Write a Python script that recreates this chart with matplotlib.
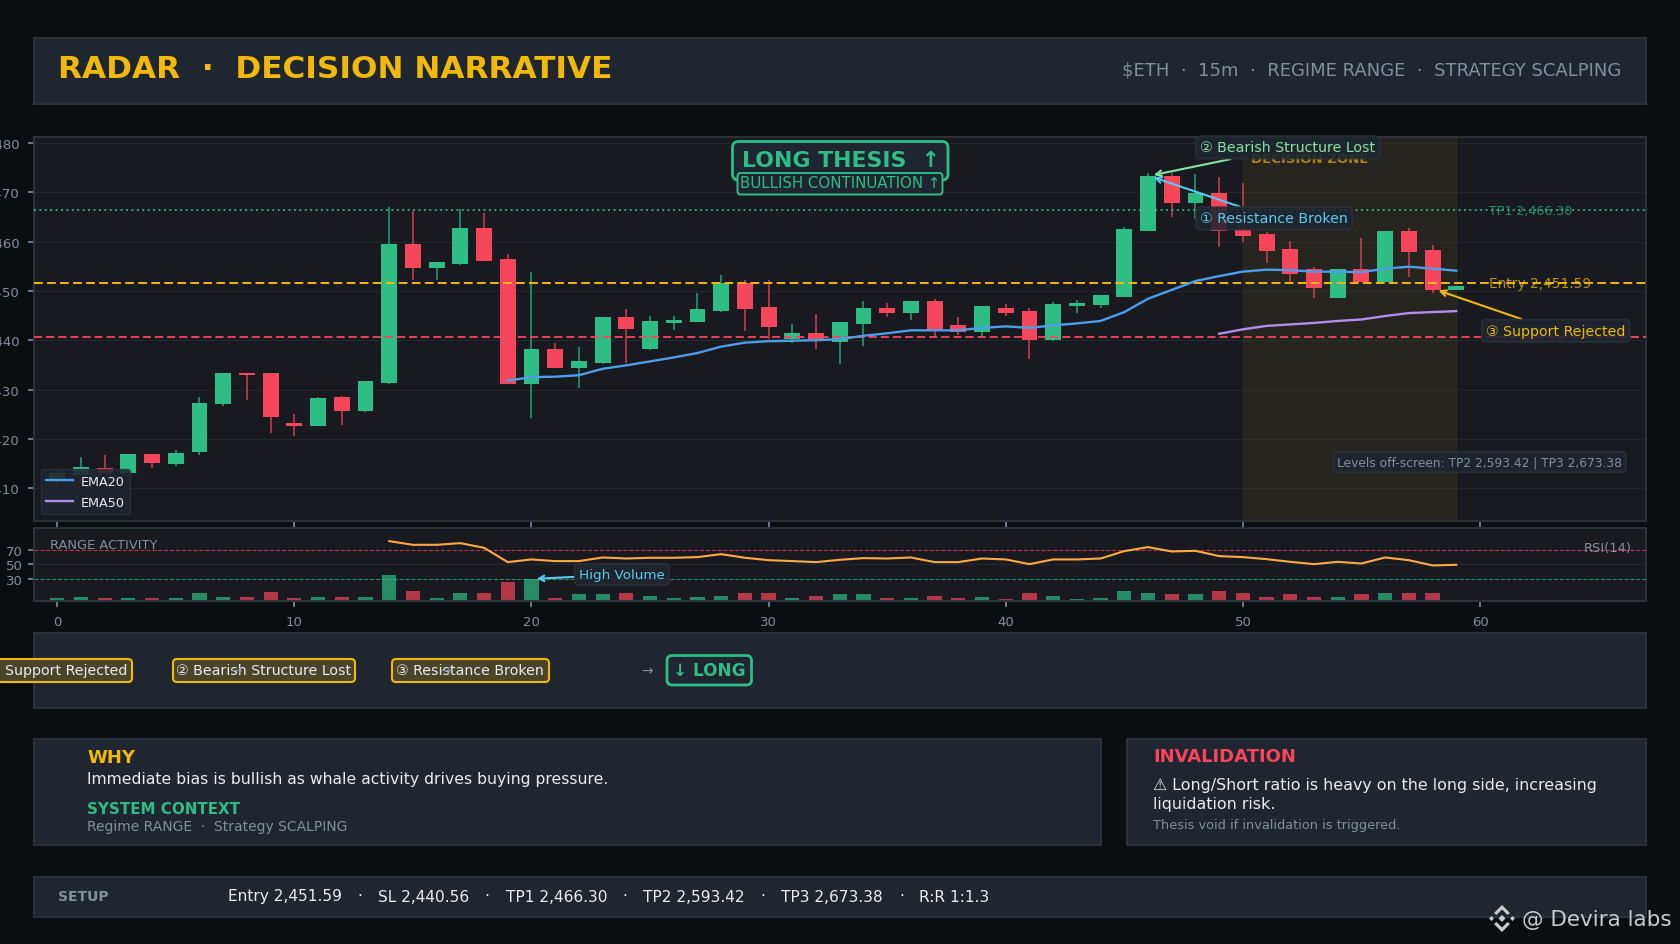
import matplotlib
matplotlib.use("Agg")
import matplotlib.pyplot as plt
from matplotlib.patches import Rectangle, FancyBboxPatch, Polygon

plt.rcParams['font.family'] = ['DejaVu Sans']

BG = '#0B0E11'; PANEL = '#1F262F'; AXBG = '#181A20'; EDGE = '#2B3139'
GREEN = '#2EBD85'; RED = '#F6465D'; AMBER = '#F0B90B'; GREY = '#848E9C'; TEXT = '#EAECEF'
SKY = '#5BC8EF'; LGREEN = '#86E3A4'; BLUE = '#4C9EEB'; PURPLE = '#B28DEB'; ORANGE = '#FFA940'

opens = [2411.8, 2412.7, 2414.1, 2413.1, 2417.0, 2414.9, 2417.4, 2427.1, 2433.4, 2433.4,
         2423.2, 2422.6, 2428.5, 2425.7, 2431.4, 2459.5, 2454.7, 2455.5, 2462.8, 2456.5,
         2431.1, 2438.2, 2434.4, 2435.4, 2444.7, 2438.2, 2443.5, 2443.7, 2445.9, 2451.6,
         2446.8, 2440.3, 2441.5, 2439.7, 2443.3, 2446.6, 2445.5, 2448.0, 2443.1, 2441.7,
         2446.6, 2445.9, 2440.1, 2447.0, 2447.2, 2448.8, 2462.2, 2473.3, 2467.8, 2469.9,
         2462.6, 2461.6, 2458.5, 2454.5, 2448.6, 2454.5, 2451.8, 2462.2, 2458.3, 2450.2]
closes = [2413.1, 2414.3, 2413.1, 2417.0, 2415.1, 2417.2, 2427.3, 2433.4, 2433.0, 2424.5,
          2422.6, 2428.3, 2425.7, 2431.8, 2459.5, 2454.7, 2455.9, 2462.8, 2456.1, 2431.1,
          2438.2, 2434.4, 2435.8, 2444.7, 2442.3, 2443.9, 2444.1, 2446.4, 2451.6, 2446.4,
          2442.7, 2441.5, 2439.9, 2443.7, 2446.6, 2445.5, 2448.0, 2442.1, 2441.7, 2447.0,
          2445.5, 2440.1, 2447.4, 2447.6, 2449.2, 2462.6, 2473.3, 2467.8, 2469.9, 2462.2,
          2461.1, 2458.1, 2453.4, 2450.6, 2454.5, 2451.8, 2462.2, 2457.9, 2450.2, 2451.0]
highs = [2413.9, 2416.35, 2416.8, 2417.0, 2417.0, 2417.8, 2428.5, 2433.4, 2433.4, 2433.4,
         2425.1, 2428.5, 2428.7, 2431.8, 2467.0, 2466.2, 2455.9, 2466.6, 2465.8, 2457.5,
         2453.9, 2439.5, 2438.6, 2444.7, 2446.4, 2444.9, 2444.9, 2449.6, 2453.2, 2452.2,
         2452.2, 2443.3, 2445.3, 2443.7, 2448.0, 2447.6, 2448.0, 2448.4, 2444.7, 2447.0,
         2447.4, 2446.6, 2447.8, 2448.2, 2449.2, 2463.0, 2473.9, 2473.9, 2473.7, 2473.1,
         2471.9, 2462.0, 2460.1, 2454.8, 2454.5, 2460.7, 2462.2, 2462.8, 2459.3, 2451.0]
lows = [2410.7, 2412.7, 2413.1, 2413.1, 2414.1, 2414.5, 2416.8, 2426.7, 2427.9, 2421.2,
        2420.6, 2422.6, 2422.8, 2425.5, 2431.1, 2452.2, 2452.2, 2455.3, 2456.1, 2431.1,
        2424.3, 2434.4, 2430.3, 2435.2, 2435.4, 2438.0, 2442.1, 2443.7, 2445.7, 2441.9,
        2440.3, 2439.5, 2438.2, 2435.2, 2438.9, 2444.7, 2444.1, 2440.9, 2441.1, 2440.7,
        2444.9, 2436.2, 2439.9, 2445.5, 2446.6, 2448.8, 2462.2, 2465.0, 2464.6, 2458.9,
        2459.9, 2455.7, 2451.8, 2448.6, 2448.6, 2451.8, 2451.8, 2452.8, 2449.6, 2450.2]

ema20_start = 19
ema20 = [2431.8, 2432.5, 2432.6, 2432.9, 2434.2, 2434.9, 2435.7, 2436.5, 2437.4, 2438.7,
         2439.5, 2439.8, 2439.9, 2440.0, 2440.2, 2440.9, 2441.4, 2442.0, 2442.0, 2442.0,
         2442.5, 2442.8, 2442.5, 2443.0, 2443.4, 2443.9, 2445.7, 2448.4, 2450.2, 2452.0,
         2453.0, 2453.9, 2454.3, 2454.2, 2453.9, 2453.9, 2453.8, 2454.5, 2454.9, 2454.5, 2454.1]
ema50_start = 49
ema50 = [2441.3, 2442.2, 2442.9, 2443.2, 2443.5, 2443.9, 2444.2, 2444.9, 2445.5, 2445.7, 2445.9]

rsi_start = 14
rsi = [82, 76.9, 76.9, 79.2, 72.8, 53, 56.7, 54.4, 54.4, 59.4, 58, 59, 59, 59.9, 64, 59, 55.7,
       54.4, 53, 56.2, 58.5, 58, 59.4, 53, 53, 58, 56.7, 50.2, 56.7, 56.7, 58, 68.2, 73.7, 67.7,
       68.6, 61.3, 59.9, 57.1, 53.4, 50.2, 53.4, 51.1, 59.4, 55.7, 48.4, 49.3]
volume = [2.8, 5.5, 2.8, 2.8, 2.8, 2.8, 11, 5.5, 5.5, 12.4, 4.1, 5.5, 5.5, 5.5, 35.9, 13.8, 2.8,
          11, 9.7, 26.2, 29, 4.1, 8.3, 8.3, 11, 6.9, 2.8, 5.5, 6.9, 9.7, 11, 2.8, 6.9, 8.3, 8.3,
          2.8, 2.8, 6.9, 2.8, 5.5, 1.4, 9.7, 6.9, 1.4, 2.8, 13.8, 11, 8.3, 8.3, 13.8, 11, 5.5,
          8.3, 5.5, 5.5, 8.3, 9.7, 9.7, 9.7, 0]

setup_items = ['Entry 2,451.59', 'SL 2,440.56', 'TP1 2,466.30', 'TP2 2,593.42', 'TP3 2,673.38', 'R:R 1:1.3']
setup_left = [227.5, 377.5, 505.5, 642.8, 781, 919]
setup_dots = [359.5, 487, 625, 763, 901.5]

ENTRY = 2451.59; SL = 2440.56; TP1 = 2466.30
W, H = 1680, 945
fig = plt.figure(figsize=(16.8, 9.45), dpi=100, facecolor=BG)

def axrect(l, t, r, b):
    return [l / W, 1 - b / H, (r - l) / W, (b - t) / H]

bg = fig.add_axes([0, 0, 1, 1], zorder=0)
bg.set_xlim(0, W); bg.set_ylim(H, 0); bg.axis('off')
for l, t, r, b in [(33.5, 38.5, 1646, 105), (33.5, 634, 1646, 709), (33.5, 740, 1100.5, 846),
                   (1126.5, 740, 1646, 846), (33.5, 878, 1646, 918)]:
    bg.add_patch(Rectangle((l, t), r - l, b - t, fc=PANEL, ec=EDGE, lw=1.5))

ax = fig.add_axes(axrect(33.5, 138, 1646, 521.7), zorder=2, facecolor=AXBG)
sub = fig.add_axes(axrect(33.5, 528.5, 1646, 601.5), zorder=2, facecolor=AXBG)
top = fig.add_axes([0, 0, 1, 1], zorder=5)
top.set_xlim(0, W); top.set_ylim(H, 0); top.axis('off'); top.patch.set_alpha(0)

# main chart
xs = list(range(len(opens)))
cols = [GREEN if c >= o else RED for o, c in zip(opens, closes)]
ax.vlines(xs, lows, highs, colors=cols, lw=1.2, alpha=0.75, zorder=2)
ax.bar(xs, [abs(c - o) for o, c in zip(opens, closes)], bottom=[min(o, c) for o, c in zip(opens, closes)],
       width=0.67, color=cols, zorder=3)
ax.plot(range(ema20_start, ema20_start + len(ema20)), ema20, color=BLUE, lw=1.7, zorder=5, label='EMA20')
ax.plot(range(ema50_start, ema50_start + len(ema50)), ema50, color=PURPLE, lw=1.7, zorder=5, label='EMA50')
ax.axvspan(50, 59, facecolor=AMBER, alpha=0.065, edgecolor=AMBER, lw=0.8, zorder=1)
ax.axhline(ENTRY, color=AMBER, ls=(0, (4.5, 2.2)), lw=1.4, zorder=4)
ax.axhline(SL, color=RED, ls=(0, (4.5, 2.2)), lw=1.3, zorder=4)
ax.axhline(TP1, color=GREEN, ls=(0, (1, 2)), lw=1.3, zorder=4)
ax.set_xlim(-1, 67); ax.set_ylim(2403.4, 2481.2)
ax.set_xticks(range(0, 61, 10)); ax.set_xticklabels([])
ax.set_yticks(range(2410, 2481, 10))
ax.grid(axis='y', color=EDGE, alpha=0.55, lw=0.8); ax.set_axisbelow(True)
ax.tick_params(axis='y', colors=GREY, labelsize=9.5, length=4.3, width=1.2, pad=6)
ax.tick_params(axis='x', colors=GREY, length=4.5, width=1.2)
for s in ax.spines.values():
    s.set_color(EDGE); s.set_linewidth(1.5)

lx = 60.4
ax.text(lx, TP1, 'TP1 2,466.30', color=GREEN, alpha=0.7, fontsize=9.1, va='center', zorder=6)
ax.text(lx, ENTRY, 'Entry 2,451.59', color=AMBER, alpha=0.75, fontsize=9.9, va='center', zorder=6)
ax.text(lx, SL, 'SL 2,440.56', color=RED, alpha=0.6, fontsize=9, va='center', zorder=6)
ax.text(52.8, 2476.8, 'DECISION ZONE', color=AMBER, alpha=0.65, fontsize=9.5, fontweight='bold',
        ha='center', va='center', zorder=6)

def note(a, txt, xy, xytext, col, ha='left', fs=10.2, arrow=True):
    box = dict(boxstyle='round,pad=0.3', fc=PANEL, ec=EDGE, lw=1.2, alpha=0.88)
    if arrow:
        a.annotate(txt, xy=xy, xytext=xytext, color=col, fontsize=fs, ha=ha, va='center', bbox=box, zorder=8,
                   arrowprops=dict(arrowstyle='->', color=col, lw=1.5, shrinkA=0, shrinkB=0), annotation_clip=False)
    else:
        a.text(*xytext, txt, color=col, fontsize=fs, ha=ha, va='center', bbox=box, zorder=8)

note(ax, '② Bearish Structure Lost', (46.24, 2473.5), (48.2, 2479.1), LGREEN)
note(ax, '① Resistance Broken', (46.24, 2473.0), (48.2, 2464.7), SKY)
note(ax, '③ Support Rejected', (58.25, 2450.07), (60.25, 2441.9), AMBER)
note(ax, 'Levels off-screen: TP2 2,593.42 | TP3 2,673.38', (0, 0), (66.0, 2415.3), GREY, ha='right', fs=8.8, arrow=False)

leg = ax.legend(loc='lower left', bbox_to_anchor=(0.0048, 0.0175), borderaxespad=0, fontsize=9.2, handlelength=2.1,
                labelspacing=0.65, borderpad=0.4, handletextpad=0.6, facecolor=PANEL, edgecolor=EDGE, framealpha=0.88)
leg.set_zorder(9)
for t in leg.get_texts():
    t.set_color(TEXT)

# lower chart
sub.bar(xs, volume, width=0.6, color=cols, alpha=0.7, zorder=2)
sub.plot(range(rsi_start, rsi_start + len(rsi)), rsi, color=ORANGE, lw=1.5, zorder=4)
sub.axhline(70, color=RED, ls='--', lw=0.8, alpha=0.7, zorder=3)
sub.axhline(50, color=EDGE, lw=0.7, alpha=0.7, zorder=1)
sub.axhline(30, color=GREEN, ls='--', lw=0.8, alpha=0.7, zorder=3)
sub.set_xlim(-1, 67); sub.set_ylim(0, 100.8)
sub.set_xticks(range(0, 61, 10)); sub.set_yticks([30, 50, 70])
sub.tick_params(axis='both', colors=GREY, labelsize=9.5, length=4.5, width=1.2)
sub.tick_params(axis='x', pad=6)
for s in sub.spines.values():
    s.set_color(EDGE); s.set_linewidth(1.5)
sub.text(0.0105, 0.77, 'RANGE ACTIVITY', transform=sub.transAxes, color=GREY, fontsize=9.4, va='center')
sub.text(0.9912, 0.72, 'RSI(14)', transform=sub.transAxes, color=GREY, fontsize=9.4, ha='right', va='center')
note(sub, 'High Volume', (20.22, 30), (22.0, 36), SKY, fs=9.7)

# header
top.text(58.5, 78, 'RADAR  ·  DECISION NARRATIVE', color=AMBER, fontsize=22.4, fontweight='bold', va='baseline')
top.text(1621.5, 70, '$ETH  ·  15m  ·  REGIME RANGE  ·  STRATEGY SCALPING', color=GREY, fontsize=13, ha='right', va='center')

# thesis badge
def chip(l, t, r, b, fc, ec, lw, alpha=1.0, rad=6, z=3):
    top.add_patch(FancyBboxPatch((l + rad, t + rad), r - l - 2 * rad, b - t - 2 * rad,
                                 boxstyle=f'round,pad={rad},rounding_size={rad}', fc=fc, ec=ec, lw=lw, zorder=z))

chip(732.5, 142.5, 948, 181, PANEL, GREEN, 2.0, rad=6)
top.text(742, 161, 'LONG THESIS  ↑', color=GREEN, fontsize=15.8, fontweight='bold', va='center', zorder=4)
chip(737.5, 174, 942.5, 195.5, PANEL, GREEN, 1.4, rad=3, z=5)
top.text(840, 184, 'BULLISH CONTINUATION ↑', color=GREEN, fontsize=10.8, ha='center', va='center', zorder=6)

# narrative chips
chip_fc = '#4A4428'
for l, r, txt, tx in [(-45, 132, '① Support Rejected', 127.5), (173, 355, '② Bearish Structure Lost', 351),
                      (392, 549, '③ Resistance Broken', 544)]:
    chip(l, 660, r, 683, chip_fc, AMBER, 1.5, rad=4)
    top.text(tx, 671, txt, color=TEXT, fontsize=10.2, ha='right', va='center', zorder=4)
for x in [236, 445]:
    top.text(x, 671, '→', color=GREY, fontsize=10, ha='center', va='center', zorder=5)
top.text(647.5, 671, '→', color=GREY, fontsize=10, ha='center', va='center', zorder=5)
chip(667, 656.5, 751.5, 686, PANEL, GREEN, 2.0, rad=5)
top.text(709, 671, '↓ LONG', color=GREEN, fontsize=12.2, fontweight='bold', ha='center', va='center', zorder=4)

# why / invalidation
top.text(87, 758, 'WHY', color=AMBER, fontsize=13, fontweight='bold', va='center')
top.text(87, 779.5, 'Immediate bias is bullish as whale activity drives buying pressure.', color=TEXT, fontsize=11.28, va='center')
top.text(87, 810, 'SYSTEM CONTEXT', color=GREEN, fontsize=10.9, fontweight='bold', va='center')
top.text(87, 827, 'Regime RANGE  ·  Strategy SCALPING', color=GREY, fontsize=10, va='center')
top.text(1153, 757, 'INVALIDATION', color=RED, fontsize=13, fontweight='bold', va='center')
top.text(1153, 785.5, '⚠ Long/Short ratio is heavy on the long side, increasing', color=TEXT, fontsize=11.4, va='center')
top.text(1153, 805, 'liquidation risk.', color=TEXT, fontsize=11.4, va='center')
top.text(1153, 826, 'Thesis void if invalidation is triggered.', color=GREY, fontsize=9.3, va='center')

# setup
top.text(58, 897, 'SETUP', color=GREY, fontsize=10, fontweight='bold', va='center')
for item, x in zip(setup_items, setup_left):
    top.text(x, 897, item, color=TEXT, fontsize=11.1, va='center')
for x in setup_dots:
    top.text(x, 897, '·', color=TEXT, fontsize=11.1, ha='center', va='center')

# watermark
WM = '#C8CACC'
top.text(1522.5, 920, '@ Devira labs', color=WM, fontsize=15.5, va='center', zorder=7)
cx, cy = 1502, 919.5
def poly(pts):
    top.add_patch(Polygon([(cx + a, cy + b) for a, b in pts], closed=True, fc=WM, ec='none', zorder=7))
poly([(0, -3.5), (3.5, 0), (0, 3.5), (-3.5, 0)])
poly([(-13, 0), (-10.5, -2.5), (-8, 0), (-10.5, 2.5)])
poly([(13, 0), (10.5, -2.5), (8, 0), (10.5, 2.5)])
poly([(0, -13.5), (8, -5.5), (5.5, -3.5), (0, -9), (-5.5, -3.5), (-8, -5.5)])
poly([(0, 13.5), (8, 5.5), (5.5, 3.5), (0, 9), (-5.5, 3.5), (-8, 5.5)])

fig.savefig('out.png', dpi=100, facecolor=BG)
